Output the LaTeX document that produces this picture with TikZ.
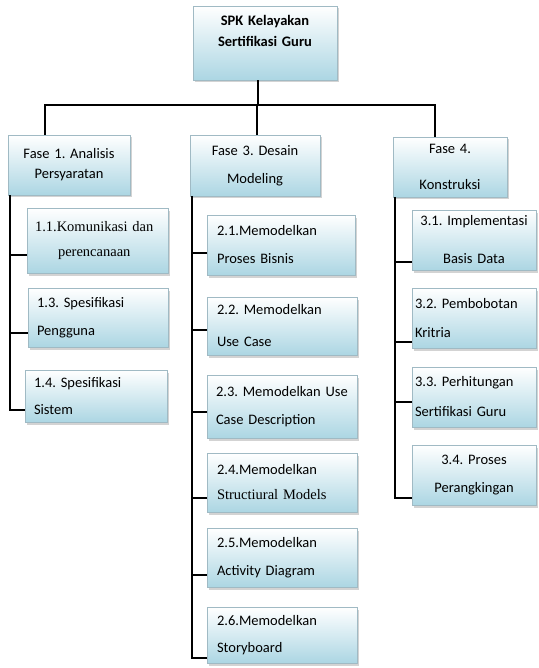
\documentclass[tikz,border=0pt]{standalone}
\usepackage{fontspec}
\setmainfont{Carlito}
\newfontfamily\tnr{Liberation Serif}
\usetikzlibrary{calc,shadows}
\definecolor{boxblue}{RGB}{172,214,227}
\definecolor{boxline}{RGB}{160,186,196}
\tikzset{
  box/.style={draw=boxline, line width=0.6pt, top color=white, bottom color=boxblue,
    drop shadow={opacity=0.35, shadow xshift=2pt, shadow yshift=-2.5pt},
    font=\fontsize{14.5}{17.5}\selectfont\frenchspacing, inner ysep=0pt},
  link/.style={line width=2.2pt, black},
}
\begin{document}
\frenchspacing
\begin{tikzpicture}[x=1pt,y=-1pt]
\useasboundingbox (0,0) rectangle (538,668);
% root
\node[box, minimum width=144, minimum height=74, text width=140pt, inner xsep=2pt, align=center,
  font=\fontsize{14.5}{17.5}\selectfont\bfseries] (top) at (265,43) {SPK Kelayakan\\[3pt]Sertifikasi Guru\\[6.5pt]\mbox{}};
% phases
\node[box, minimum width=122, minimum height=60, text width=118pt, inner xsep=2pt, align=center] (f1) at (69,165) {Fase 1. Analisis\\[2.5pt]Persyaratan};
\node[box, minimum width=130, minimum height=61, text width=126pt, inner xsep=2pt, align=center] (f3) at (255,165.5) {Fase 3. Desain\\[10.5pt]Modeling};
\node[box, minimum width=114, minimum height=60, text width=110pt, inner xsep=2pt, align=center] (f4) at (450,167) {Fase 4.\\[18.5pt]Konstruksi};
% phase 1 children
\node[box, minimum width=141, minimum height=65, text width=125pt, inner xsep=8pt, align=left] (c11) at (97.5,240.5) {\mbox{\tnr 1.1.Komunikasi dan}\\[7.5pt]\hspace*{23pt}{\tnr perencanaan}};
\node[box, minimum width=140, minimum height=59, text width=122pt, inner xsep=9pt, align=left] (c13) at (98,317.5) {1.3. Spesifikasi\\[10.5pt]Pengguna};
\node[box, minimum width=142, minimum height=52, text width=124pt, inner xsep=9pt, align=left] (c14) at (96,396) {1.4. Spesifikasi\\[9.5pt]Sistem};
% phase 3 children
\node[box, minimum width=148, minimum height=60, text width=128pt, inner xsep=10pt, align=left] (c21) at (281,245) {2.1.Memodelkan\\[10.5pt]Proses Bisnis};
\node[box, minimum width=150, minimum height=58, text width=130pt, inner xsep=10pt, align=left] (c22) at (282,326) {2.2. Memodelkan\\[14.5pt]Use Case};
\node[box, minimum width=150, minimum height=63, text width=132pt, inner xsep=9pt, align=left] (c23) at (282,406.5) {\mbox{2.3. Memodelkan Use}\\[10.5pt]Case Description};
\node[box, minimum width=150, minimum height=59, text width=130pt, inner xsep=10pt, align=left] (c24) at (282,482.5) {2.4.Memodelkan\\[7.5pt]{\tnr Structiural Models}};
\node[box, minimum width=150, minimum height=59, text width=130pt, inner xsep=10pt, align=left] (c25) at (282,557.5) {2.5.Memodelkan\\[10.5pt]Activity Diagram};
\node[box, minimum width=150, minimum height=56, text width=130pt, inner xsep=10pt, align=left] (c26) at (282,635) {2.6.Memodelkan\\[9.5pt]Storyboard};
% phase 4 children
\node[box, minimum width=124, minimum height=60, text width=120pt, inner xsep=2pt, align=center] (c31) at (474,240) {3.1. Implementasi\\[20.5pt]Basis Data};
\node[box, minimum width=124, minimum height=60, text width=118pt, inner xsep=3pt, align=left] (c32) at (474,318) {3.2. Pembobotan\\[11.5pt]Kritria};
\node[box, minimum width=124, minimum height=60, text width=118pt, inner xsep=3pt, align=left] (c33) at (474,397) {3.3. Perhitungan\\[12.5pt]Sertifikasi Guru};
\node[box, minimum width=124, minimum height=60, text width=120pt, inner xsep=2pt, align=center] (c34) at (474,475) {3.4. Proses\\[10.5pt]Perangkingan};
% top connectors
\coordinate (hub) at ($(top.south)+(-7,25)$);
\coordinate (f1in) at ($(f1.north)+(-24,0)$);
\coordinate (f3in) at ($(f3.north)+(2,0)$);
\coordinate (f4in) at ($(f4.north)+(-15,0)$);
\draw[link] ($(top.south)+(-7,0)$) -- (hub);
\draw[link] (f1in) |- (hub) -| (f4in);
\draw[link] (hub -| f3in) -- (f3in);
% trunks
\coordinate (t1) at ([xshift=2pt]f1.south west);
\coordinate (t3) at ([xshift=2pt]f3.south west);
\coordinate (t4) at ([xshift=2pt]f4.south west);
\coordinate (k11) at ($(c11.west)+(0,14.5)$);
\coordinate (k13) at ($(c13.west)+(0,15.5)$);
\coordinate (k14) at ($(c14.west)+(0,14)$);
\coordinate (k21) at ($(c21.west)+(0,8)$);
\coordinate (k22) at ($(c22.west)+(0,4)$);
\coordinate (k23) at ($(c23.west)+(0,5.5)$);
\coordinate (k24) at ($(c24.west)+(0,15.5)$);
\coordinate (k25) at ($(c25.west)+(0,17.5)$);
\coordinate (k26) at ($(c26.west)+(0,23)$);
\coordinate (k31) at ($(c31.west)+(0,22)$);
\coordinate (k32) at ($(c32.west)+(0,24)$);
\coordinate (k33) at ($(c33.west)+(0,5)$);
\coordinate (k34) at ($(c34.west)+(0,23)$);
\draw[link] (t1) |- (k14);
\draw[link] (k11 -| t1) -- (k11);
\draw[link] (k13 -| t1) -- (k13);
\draw[link] (t3) |- (k26);
\draw[link] (k21 -| t3) -- (k21);
\draw[link] (k22 -| t3) -- (k22);
\draw[link] (k23 -| t3) -- (k23);
\draw[link] (k24 -| t3) -- (k24);
\draw[link] (k25 -| t3) -- (k25);
\draw[link] (t4) |- (k34);
\draw[link] (k31 -| t4) -- (k31);
\draw[link] (k32 -| t4) -- (k32);
\draw[link] (k33 -| t4) -- (k33);
\end{tikzpicture}
\end{document}
